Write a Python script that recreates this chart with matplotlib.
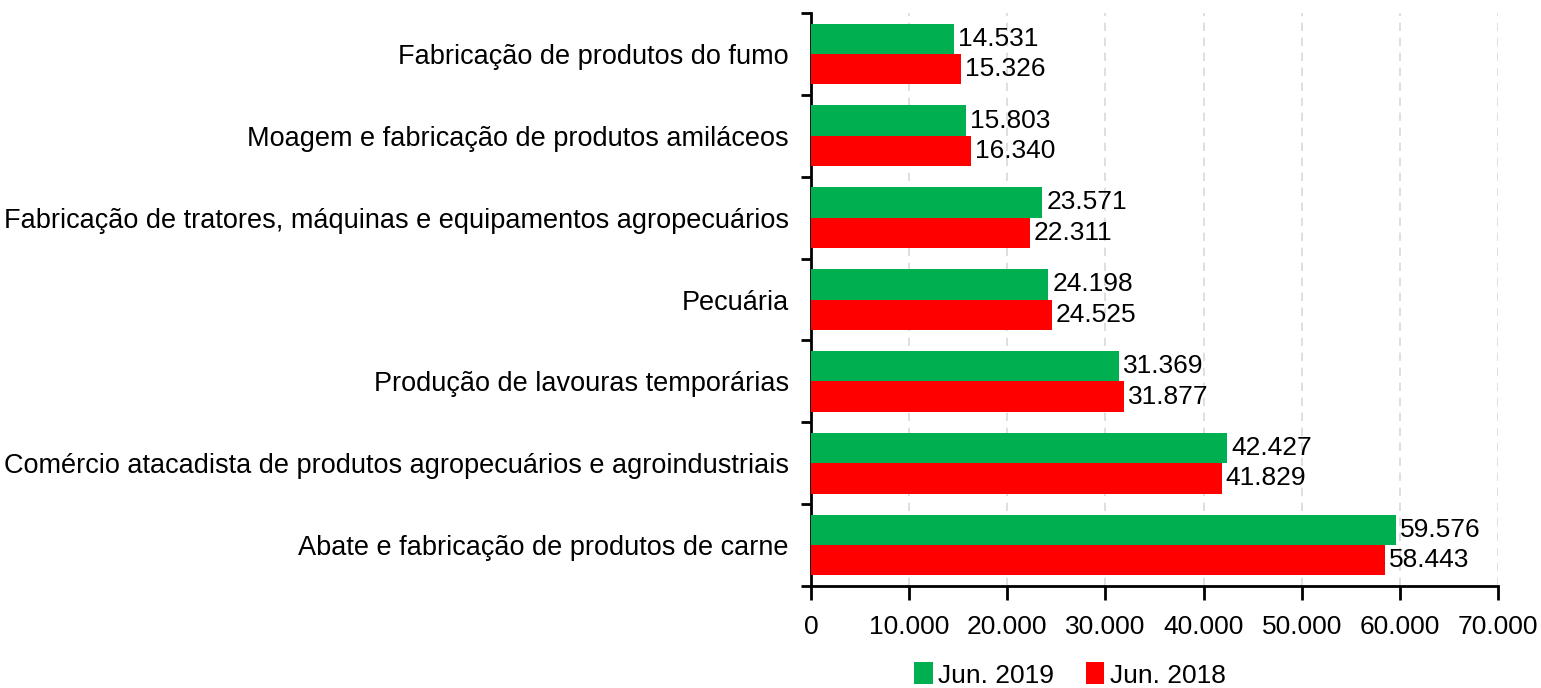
import matplotlib
matplotlib.use("Agg")
import matplotlib.pyplot as plt
import numpy as np
from matplotlib import font_manager

names = {f.name for f in font_manager.fontManager.ttflist}
fam = 'Liberation Sans Narrow' if 'Liberation Sans Narrow' in names else 'Liberation Sans'
plt.rcParams['font.family'] = [fam, 'DejaVu Sans']

categories = [
    "Abate e fabricação de produtos de carne",
    "Comércio atacadista de produtos agropecuários e agroindustriais",
    "Produção de lavouras temporárias",
    "Pecuária",
    "Fabricação de tratores, máquinas e equipamentos agropecuários",
    "Moagem e fabricação de produtos amiláceos",
    "Fabricação de produtos do fumo",
]
jun2019 = [59576, 42427, 31369, 24198, 23571, 15803, 14531]
jun2018 = [58443, 41829, 31877, 24525, 22311, 16340, 15326]
series_labels = ["Jun. 2019", "Jun. 2018"]
xticks = [0, 10000, 20000, 30000, 40000, 50000, 60000, 70000]

def fmt(v):
    return f"{v:,}".replace(",", ".")

narrow = fam.endswith('Narrow')
fs_cat = 21 if narrow else 19.5
fs = 21 if narrow else 19

fig = plt.figure(figsize=(15.41, 6.88), dpi=100)
ax = fig.add_axes([811/1541, 1-586/688, (1498-811)/1541, (586-13)/688])

y = np.arange(len(categories))
h = 0.37
g = ax.barh(y + h/2, jun2019, height=h, color='#00B050', label=series_labels[0], zorder=3)
r = ax.barh(y - h/2, jun2018, height=h, color='#FF0000', label=series_labels[1], zorder=3)

for rect, v in zip(g, jun2019):
    ax.text(v + 400, rect.get_y() + rect.get_height()/2, fmt(v), va='center', ha='left', fontsize=fs, zorder=4)
for rect, v in zip(r, jun2018):
    ax.text(v + 400, rect.get_y() + rect.get_height()/2, fmt(v), va='center', ha='left', fontsize=fs, zorder=4)

ax.set_xlim(0, 70000)
ax.set_ylim(-0.5, len(categories) - 0.5)
ax.set_xticks(xticks)
ax.set_xticklabels([fmt(t) for t in xticks], fontsize=fs)
ax.set_yticks(y)
ax.set_yticklabels(categories, fontsize=fs_cat)
ax.set_yticks(np.arange(-0.5, len(categories)), minor=True)
ax.tick_params(axis='y', which='major', length=0, pad=16)
ax.tick_params(axis='y', which='minor', length=7, width=2, direction='out')
ax.tick_params(axis='x', which='major', length=10, width=2, direction='out', pad=11)

for s in ['top', 'right']:
    ax.spines[s].set_visible(False)
for s in ['left', 'bottom']:
    ax.spines[s].set_linewidth(2)

ax.xaxis.grid(True, linestyle=(0, (5, 4)), color='#D9D9D9', linewidth=1.2, zorder=0)
ax.set_axisbelow(True)

leg = fig.legend(handles=[g, r], labels=series_labels, loc='center', bbox_to_anchor=(1070/1541, 1-675/688),
                 ncol=2, frameon=False, fontsize=fs, handlelength=0.7, handleheight=0.9,
                 handletextpad=0.2, columnspacing=1.2)

fig.savefig("out.png", dpi=100)
